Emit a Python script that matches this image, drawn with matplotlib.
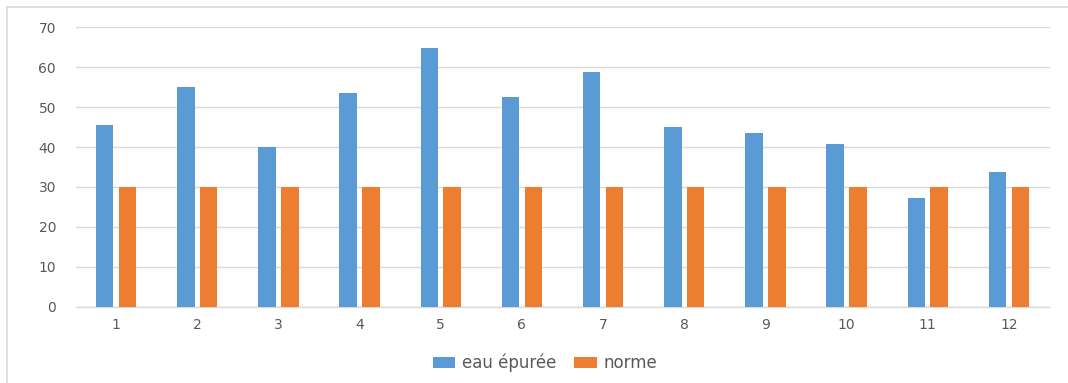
import matplotlib
matplotlib.use("Agg")
import matplotlib.pyplot as plt
import numpy as np
from matplotlib.lines import Line2D

plt.rcParams['font.family'] = ['DejaVu Sans']

categories = ["1", "2", "3", "4", "5", "6", "7", "8", "9", "10", "11", "12"]
eau_epuree = [45.5, 55.1, 40.0, 53.5, 64.8, 52.5, 58.9, 44.9, 43.5, 40.8, 27.2, 33.8]
norme = [30, 30, 30, 30, 30, 30, 30, 30, 30, 30, 30, 30]
series_labels = ["eau épurée", "norme"]
y_ticks = [0, 10, 20, 30, 40, 50, 60, 70]

blue = "#5B9BD5"
orange = "#ED7D31"
grid_color = "#D9D9D9"
text_color = "#595959"

W, H = 1068, 383
fig = plt.figure(figsize=(W / 100, H / 100), dpi=100)
ax = fig.add_axes([75.5 / W, 76.3 / H, 974 / W, 279.4 / H])

x = np.arange(len(categories))
width = 0.216
offset = 0.14
ax.bar(x - offset, eau_epuree, width, color=blue, label=series_labels[0], zorder=3)
ax.bar(x + offset, norme, width, color=orange, label=series_labels[1], zorder=3)

ax.set_xlim(-0.5, len(categories) - 0.5)
ax.set_ylim(0, 70)
ax.set_yticks(y_ticks)
ax.set_xticks(x)
ax.set_xticklabels(categories)

ax.yaxis.grid(True, color=grid_color, linewidth=1.0, zorder=0)
ax.set_axisbelow(True)
for side in ["top", "right", "left"]:
    ax.spines[side].set_visible(False)
ax.spines["bottom"].set_color(grid_color)
ax.spines["bottom"].set_linewidth(1.0)

ax.tick_params(axis="both", length=0, labelsize=10, colors=text_color)
ax.tick_params(axis="y", pad=14)
ax.tick_params(axis="x", pad=8)

fig.legend(loc="center", bbox_to_anchor=(545 / W, 20 / H), ncol=2, frameon=False,
           fontsize=12, labelcolor=text_color, handlelength=1.35, handleheight=0.6,
           handletextpad=0.4, columnspacing=1.1)

# Light frame along the top and left edges of the chart
fig.add_artist(Line2D([7 / W, 1.0], [1 - 7 / H, 1 - 7 / H], color="#D9D9D9",
                      linewidth=1.2, transform=fig.transFigure))
fig.add_artist(Line2D([7 / W, 7 / W], [0.0, 1 - 7 / H], color="#D9D9D9",
                      linewidth=1.2, transform=fig.transFigure))

fig.savefig("out.png", dpi=100, facecolor="white")
